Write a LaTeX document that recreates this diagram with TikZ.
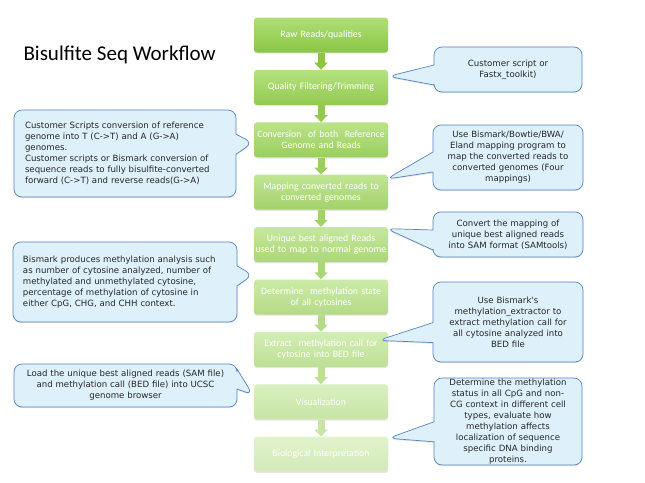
\documentclass[tikz,border=0pt]{standalone}
\usepackage{fontspec}
\setmainfont{Carlito}
\newfontfamily\notefont{DejaVu Sans}
\usepackage{tikz}
\usetikzlibrary{calc,positioning,shapes,shapes.callouts,arrows.meta,shadows}

\definecolor{boxgreen}{RGB}{138,198,68}
\definecolor{boxlight}{RGB}{176,223,118}
\definecolor{notefill}{RGB}{222,240,250}
\definecolor{noteline}{RGB}{84,132,194}

\tikzset{
  stepbox/.style={rectangle,rounded corners=3pt,minimum width=134pt,minimum height=35pt,
    inner xsep=1pt,text width=132pt,align=center,text=white,font=\fontsize{9.8}{11}\selectfont,
    top color=boxlight!#1!white,bottom color=boxgreen!#1!white,
    drop shadow={shadow xshift=0pt,shadow yshift=-1.2pt,opacity=0.2}},
  flow/.style={-{Triangle[width=13pt,length=7pt]},line width=7pt,draw=boxgreen!#1!white},
  note/.style={rectangle callout,rounded corners=8pt,fill=notefill,draw=noteline,line width=0.7pt,
    font=\notefont\fontsize{8.6}{11}\selectfont,text=black!85,align=center,inner xsep=8pt,inner ysep=1pt,
    callout pointer width=20pt,drop shadow={shadow xshift=0pt,shadow yshift=-1.2pt,opacity=0.2}}
}

\begin{document}
\begin{tikzpicture}[x=1pt,y=-1pt]
  \useasboundingbox[fill=white] (0,0) rectangle (645,482);
  \node[anchor=base west,font=\fontsize{21}{25}\selectfont] (title) at (20,60) {Bisulfite Seq Workflow};

  \node[stepbox=100] (raw) at (321,35) {Raw Reads/qualities};
  \node[stepbox=93,below=17pt of raw] (qual) {Quality Filtering/Trimming};
  \node[stepbox=86,below=17pt of qual] (conv) {Conversion\ \ of both\ \ Reference\\Genome and Reads};
  \node[stepbox=79,below=17pt of conv] (map) {Mapping converted reads to\\converted genomes};
  \node[stepbox=72,below=17pt of map] (uniq) {Unique best aligned Reads\\used to map to normal genome};
  \node[stepbox=64,below=17pt of uniq] (det) {Determine\ \ methylation state\\of all cytosines};
  \node[stepbox=56,below=17pt of det] (extr) {Extract\ \ methylation call for\\cytosine into BED file};
  \node[stepbox=47,below=17pt of extr] (vis) {Visualization};
  \node[stepbox=38,below=17pt of vis] (bio) {Biological Interpretation};

  \draw[flow=100] (raw) -- (qual);
  \draw[flow=93] (qual) -- (conv);
  \draw[flow=86] (conv) -- (map);
  \draw[flow=79] (map) -- (uniq);
  \draw[flow=72] (uniq) -- (det);
  \draw[flow=64] (det) -- (extr);
  \draw[flow=56] (extr) -- (vis);
  \draw[flow=47] (vis) -- (bio);

  \node[note,text width=132pt,minimum height=45pt,callout absolute pointer={($(qual.east)+(0,-11)$)}] (fastx) at (508,69.5)
    {Customer script or\\Fastx\_toolkit)};
  \node[note,text width=134pt,minimum height=65pt,callout absolute pointer={($(map.east)+(-2,-13)$)}] (bowtie) at (508,157.5)
    {Use Bismark/Bowtie/BWA/\\Eland mapping program to\\map the converted reads to\\converted genomes (Four\\mappings)};
  \node[note,text width=134pt,minimum height=45pt,callout absolute pointer={($(uniq.east)+(-2,-16)$)}] (samtools) at (508,234.5)
    {Convert the mapping of\\unique best aligned reads\\into SAM format (SAMtools)};
  \node[note,text width=134pt,minimum height=80pt,callout absolute pointer={($(extr.east)+(-10,-9)$)}] (extractor) at (508,322)
    {Use Bismark's\\methylation\_extractor to\\extract methylation call for\\all cytosine analyzed into\\BED file};
  \node[note,text width=132pt,minimum height=87pt,inner ysep=0pt,callout absolute pointer={($(bio.east)+(0,-16)$)}] (interp) at (508,421.5)
    {Determine the methylation\\status in all CpG and non-\\CG context in different cell\\types, evaluate how\\methylation affects\\localization of sequence\\specific DNA binding\\proteins.};

  \node[note,align=left,inner xsep=11pt,text width=200pt,minimum height=87pt,callout absolute pointer={($(conv.west)+(-1,3)$)}] (scripts) at (125,153.5)
    {Customer Scripts conversion of reference\\genome into T (C->T) and A (G->A)\\genomes.\\Customer scripts or Bismark conversion of\\sequence reads to fully bisulfite-converted\\forward (C->T) and reverse reads(G->A)};
  \node[note,align=left,inner xsep=10pt,text width=204pt,minimum height=80pt,callout absolute pointer={($(det.west)+(-1,-22)$)}] (analysis) at (125,282)
    {Bismark produces methylation analysis such\\as number of cytosine analyzed, number of\\methylated and unmethylated cytosine,\\percentage of methylation of cytosine in\\either CpG, CHG, and CHH context.};
  \node[note,text width=207pt,minimum height=43pt,callout absolute pointer={($(vis.west)+(-1,-7)$)}] (ucsc) at (125.5,385.5)
    {Load the unique best aligned reads (SAM file)\\and methylation call (BED file) into UCSC\\genome browser};
\end{tikzpicture}
\end{document}
